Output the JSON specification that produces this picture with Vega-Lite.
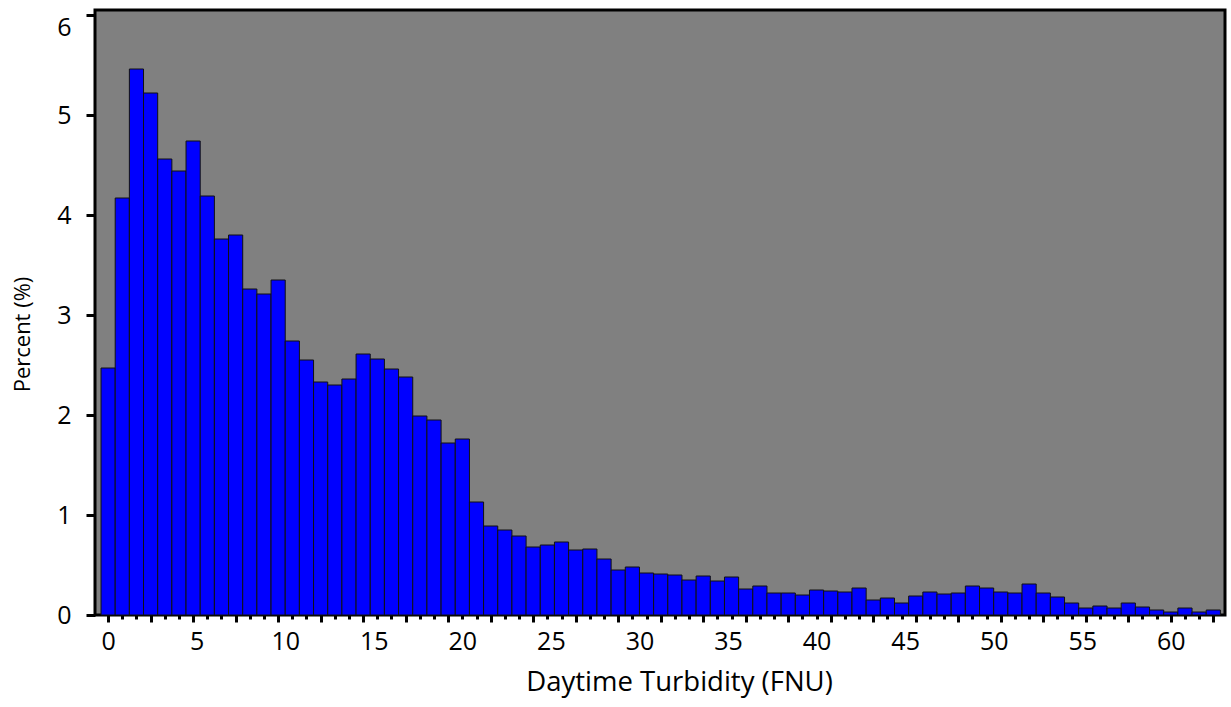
{
  "$schema": "https://vega.github.io/schema/vega-lite/v6.json",
  "width": 1130,
  "height": 605,
  "autosize": {"type": "none"},
  "padding": {"left": 95, "top": 10, "right": 6, "bottom": 92},
  "background": "white",
  "config": {
    "view": {"fill": "#808080", "stroke": "#000000", "strokeWidth": 3},
    "font": "Open Sans"
  },
  "data": {
    "values": [
      {"lo": -0.4, "hi": 0.4, "pct": 2.47},
      {"lo": 0.4, "hi": 1.2, "pct": 4.17},
      {"lo": 1.2, "hi": 2.0, "pct": 5.46},
      {"lo": 2.0, "hi": 2.8, "pct": 5.22},
      {"lo": 2.8, "hi": 3.6, "pct": 4.56},
      {"lo": 3.6, "hi": 4.4, "pct": 4.44},
      {"lo": 4.4, "hi": 5.2, "pct": 4.74},
      {"lo": 5.2, "hi": 6.0, "pct": 4.19},
      {"lo": 6.0, "hi": 6.8, "pct": 3.76},
      {"lo": 6.8, "hi": 7.6, "pct": 3.80},
      {"lo": 7.6, "hi": 8.4, "pct": 3.26},
      {"lo": 8.4, "hi": 9.2, "pct": 3.21},
      {"lo": 9.2, "hi": 10.0, "pct": 3.35},
      {"lo": 10.0, "hi": 10.8, "pct": 2.74},
      {"lo": 10.8, "hi": 11.6, "pct": 2.55},
      {"lo": 11.6, "hi": 12.4, "pct": 2.33},
      {"lo": 12.4, "hi": 13.2, "pct": 2.30},
      {"lo": 13.2, "hi": 14.0, "pct": 2.36},
      {"lo": 14.0, "hi": 14.8, "pct": 2.61},
      {"lo": 14.8, "hi": 15.6, "pct": 2.56},
      {"lo": 15.6, "hi": 16.4, "pct": 2.46},
      {"lo": 16.4, "hi": 17.2, "pct": 2.38},
      {"lo": 17.2, "hi": 18.0, "pct": 1.99},
      {"lo": 18.0, "hi": 18.8, "pct": 1.95},
      {"lo": 18.8, "hi": 19.6, "pct": 1.72},
      {"lo": 19.6, "hi": 20.4, "pct": 1.76},
      {"lo": 20.4, "hi": 21.2, "pct": 1.13},
      {"lo": 21.2, "hi": 22.0, "pct": 0.89},
      {"lo": 22.0, "hi": 22.8, "pct": 0.85},
      {"lo": 22.8, "hi": 23.6, "pct": 0.79},
      {"lo": 23.6, "hi": 24.4, "pct": 0.68},
      {"lo": 24.4, "hi": 25.2, "pct": 0.70},
      {"lo": 25.2, "hi": 26.0, "pct": 0.73},
      {"lo": 26.0, "hi": 26.8, "pct": 0.65},
      {"lo": 26.8, "hi": 27.6, "pct": 0.66},
      {"lo": 27.6, "hi": 28.4, "pct": 0.56},
      {"lo": 28.4, "hi": 29.2, "pct": 0.45},
      {"lo": 29.2, "hi": 30.0, "pct": 0.48},
      {"lo": 30.0, "hi": 30.8, "pct": 0.42},
      {"lo": 30.8, "hi": 31.6, "pct": 0.41},
      {"lo": 31.6, "hi": 32.4, "pct": 0.40},
      {"lo": 32.4, "hi": 33.2, "pct": 0.35},
      {"lo": 33.2, "hi": 34.0, "pct": 0.39},
      {"lo": 34.0, "hi": 34.8, "pct": 0.34},
      {"lo": 34.8, "hi": 35.6, "pct": 0.38},
      {"lo": 35.6, "hi": 36.4, "pct": 0.26},
      {"lo": 36.4, "hi": 37.2, "pct": 0.29},
      {"lo": 37.2, "hi": 38.0, "pct": 0.22},
      {"lo": 38.0, "hi": 38.8, "pct": 0.22},
      {"lo": 38.8, "hi": 39.6, "pct": 0.20},
      {"lo": 39.6, "hi": 40.4, "pct": 0.25},
      {"lo": 40.4, "hi": 41.2, "pct": 0.24},
      {"lo": 41.2, "hi": 42.0, "pct": 0.23},
      {"lo": 42.0, "hi": 42.8, "pct": 0.27},
      {"lo": 42.8, "hi": 43.6, "pct": 0.15},
      {"lo": 43.6, "hi": 44.4, "pct": 0.17},
      {"lo": 44.4, "hi": 45.2, "pct": 0.12},
      {"lo": 45.2, "hi": 46.0, "pct": 0.19},
      {"lo": 46.0, "hi": 46.8, "pct": 0.23},
      {"lo": 46.8, "hi": 47.6, "pct": 0.21},
      {"lo": 47.6, "hi": 48.4, "pct": 0.22},
      {"lo": 48.4, "hi": 49.2, "pct": 0.29},
      {"lo": 49.2, "hi": 50.0, "pct": 0.27},
      {"lo": 50.0, "hi": 50.8, "pct": 0.23},
      {"lo": 50.8, "hi": 51.6, "pct": 0.22},
      {"lo": 51.6, "hi": 52.4, "pct": 0.31},
      {"lo": 52.4, "hi": 53.2, "pct": 0.22},
      {"lo": 53.2, "hi": 54.0, "pct": 0.18},
      {"lo": 54.0, "hi": 54.8, "pct": 0.12},
      {"lo": 54.8, "hi": 55.6, "pct": 0.07},
      {"lo": 55.6, "hi": 56.4, "pct": 0.09},
      {"lo": 56.4, "hi": 57.2, "pct": 0.07},
      {"lo": 57.2, "hi": 58.0, "pct": 0.12},
      {"lo": 58.0, "hi": 58.8, "pct": 0.08},
      {"lo": 58.8, "hi": 59.6, "pct": 0.05},
      {"lo": 59.6, "hi": 60.4, "pct": 0.03},
      {"lo": 60.4, "hi": 61.2, "pct": 0.07},
      {"lo": 61.2, "hi": 62.0, "pct": 0.03},
      {"lo": 62.0, "hi": 62.8, "pct": 0.05}
    ]
  },
  "encoding": {
    "y": {
      "field": "pct",
      "type": "quantitative",
      "scale": {"domain": [0, 6.05], "nice": false},
      "axis": {
        "title": "Percent (%)",
        "titleFont": "Open Sans",
        "titleFontSize": 22,
        "titleFontWeight": "normal",
        "titleColor": "#000000",
        "titlePadding": 22,
        "titleY": 324,
        "values": [0, 1, 2, 3, 4, 5, 6],
        "labelFont": "Open Sans",
        "labelFontSize": 25,
        "labelColor": "#000000",
        "labelPadding": 15,
        "labelBound": false,
        "labelBaseline": {"condition": {"test": "datum.value == 6", "value": "top"}, "value": "middle"},
        "domain": false,
        "grid": false,
        "tickColor": "#000000",
        "tickWidth": 3,
        "tickSize": 9
      }
    },
    "y2": {"datum": 0}
  },
  "layer": [
    {
      "mark": {"type": "bar", "fill": "#0000ff", "stroke": "#111111", "strokeWidth": 1},
      "encoding": {
        "x": {
          "field": "lo",
          "type": "quantitative",
          "scale": {"domain": [-0.74, 63.06], "nice": false, "zero": false},
          "axis": {
            "orient": "bottom",
            "title": "Daytime Turbidity (FNU)",
            "titleFont": "Open Sans",
            "titleFontSize": 27.5,
            "titleFontWeight": "normal",
            "titleColor": "#000000",
            "titlePadding": 14,
            "titleX": 584,
            "values": [0, 5, 10, 15, 20, 25, 30, 35, 40, 45, 50, 55, 60],
            "format": "d",
            "labelOverlap": false,
            "labelFlush": false,
            "labelBound": false,
            "labelFont": "Open Sans",
            "labelFontSize": 25,
            "labelColor": "#000000",
            "labelPadding": 14,
            "ticks": false,
            "domain": false,
            "grid": false
          }
        },
        "x2": {"field": "hi"}
      }
    },
    {
      "mark": {"type": "bar", "opacity": 0},
      "encoding": {
        "x": {
          "field": "lo",
          "type": "quantitative",
          "axis": {
            "orient": "bottom",
            "title": null,
            "labels": false,
            "values": [0, 0.8, 1.6, 2.4, 3.2, 4, 4.8, 5.6, 6.4, 7.2, 8, 8.8, 9.6, 10.4, 11.2, 12, 12.8, 13.6, 14.4, 15.2, 16, 16.8, 17.6, 18.4, 19.2, 20, 20.8, 21.6, 22.4, 23.2, 24, 24.8, 25.6, 26.4, 27.2, 28, 28.8, 29.6, 30.4, 31.2, 32, 32.8, 33.6, 34.4, 35.2, 36, 36.8, 37.6, 38.4, 39.2, 40, 40.8, 41.6, 42.4, 43.2, 44, 44.8, 45.6, 46.4, 47.2, 48, 48.8, 49.6, 50.4, 51.2, 52, 52.8, 53.6, 54.4, 55.2, 56, 56.8, 57.6, 58.4, 59.2, 60, 60.8, 61.6, 62.4],
            "domain": false,
            "grid": false,
            "tickColor": "#000000",
            "tickWidth": 3,
            "tickSize": {"condition": {"test": "round(datum.value / 0.8) % 3 == 0", "value": 7}, "value": 4}
          }
        },
        "x2": {"field": "hi"}
      }
    }
  ],
  "resolve": {"axis": {"x": "independent"}}
}
